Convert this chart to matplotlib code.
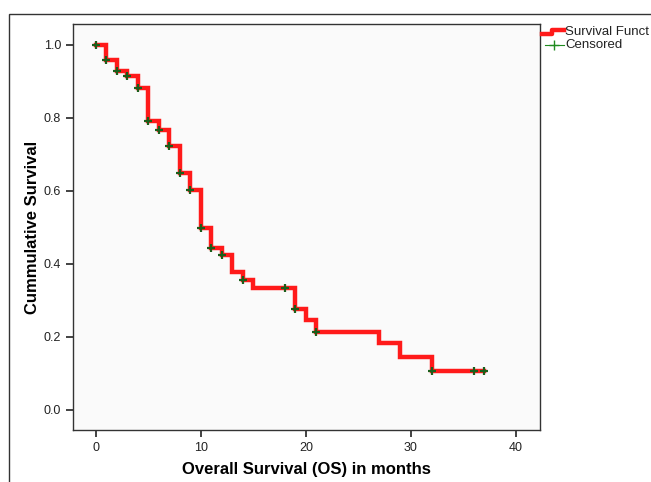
import numpy as np
import matplotlib
matplotlib.use("Agg")
import matplotlib.pyplot as plt
from matplotlib.lines import Line2D
from matplotlib.patches import Rectangle

plt.rcParams['font.family'] = ['Liberation Sans', 'DejaVu Sans']

# Kaplan-Meier step data (time in months, cumulative survival)
event_times = [0, 1, 2, 3, 4, 5, 6, 7, 8, 9, 10, 11, 12, 13, 14, 15, 19, 20, 21, 27, 29, 32]
survival = [1.0, 0.96, 0.929, 0.916, 0.881, 0.792, 0.766, 0.724, 0.648, 0.603, 0.499,
            0.443, 0.425, 0.379, 0.357, 0.333, 0.276, 0.247, 0.215, 0.183, 0.144, 0.108]
end_time = 37
censored_times = [0, 1, 2, 3, 4, 5, 6, 7, 8, 9, 10, 11, 12, 14, 18, 19, 21, 32, 36, 37]

x_ticks = [0, 10, 20, 30, 40]
y_ticks = [0.0, 0.2, 0.4, 0.6, 0.8, 1.0]
x_label = "Overall Survival (OS) in months"
y_label = "Cummulative Survival"
legend_labels = ["Survival Funct", "Censored"]

fig = plt.figure(figsize=(6.51, 4.82), dpi=100)
fig.patch.set_facecolor('white')

# outer frame
fig.patches.append(Rectangle((9/651, -0.05), 1.2, (482-14)/482 + 0.05,
                             transform=fig.transFigure, fill=False,
                             edgecolor='#333333', linewidth=1.0))

ax = fig.add_axes([73/651, 52/482, 467/651, 406/482])
ax.set_facecolor('#fafafa')

xs = list(event_times) + [end_time]
ys = list(survival) + [survival[-1]]
ax.step(xs, ys, where='post', color='#ff1a1a', linewidth=3.2, solid_joinstyle='miter', zorder=2)

idx = np.searchsorted(event_times, censored_times, side='right') - 1
cens_y = [survival[i] for i in idx]
ax.plot(censored_times, cens_y, linestyle='none', marker='+', color='#1a5e1a',
        markersize=6, markeredgewidth=1.6, zorder=3)

ax.set_xlim(-2.19, 42.29)
ax.set_ylim(-0.0548, 1.0575)
ax.set_xticks(x_ticks)
ax.set_xticklabels([str(v) for v in x_ticks])
ax.set_yticks(y_ticks)
ax.set_yticklabels([f"{v:.1f}" for v in y_ticks])
ax.tick_params(direction='out', length=5, width=1.2, color='#222222',
               labelsize=9, labelcolor='#222222')
for s in ax.spines.values():
    s.set_color('#333333')
    s.set_linewidth(1.0)

ax.set_xlabel(x_label, fontsize=12, fontweight='bold', labelpad=6)
ax.set_ylabel(y_label, fontsize=12, fontweight='bold', labelpad=3)

# legend drawn at the top right outside the plot
tf = fig.transFigure
def fx(px):
    return px / 651
def fy(py):
    return (482 - py) / 482

fig.lines.append(Line2D([fx(542), fx(552), fx(552), fx(564)],
                        [fy(34), fy(34), fy(30), fy(30)],
                        transform=tf, color='#ff1a1a', linewidth=3.2))
fig.text(fx(565), fy(32), legend_labels[0], fontsize=9.5, va='center', ha='left', color='#222222')
fig.lines.append(Line2D([fx(545), fx(564)], [fy(45), fy(45)], transform=tf,
                        color='#1f8b1f', linewidth=0.8))
fig.lines.append(Line2D([fx(554)], [fy(45)], transform=tf, linestyle='none',
                        marker='+', color='#1f8b1f', markersize=7, markeredgewidth=1.0))
fig.text(fx(565), fy(45), legend_labels[1], fontsize=9.5, va='center', ha='left', color='#222222')

fig.savefig('out.png', dpi=100)
